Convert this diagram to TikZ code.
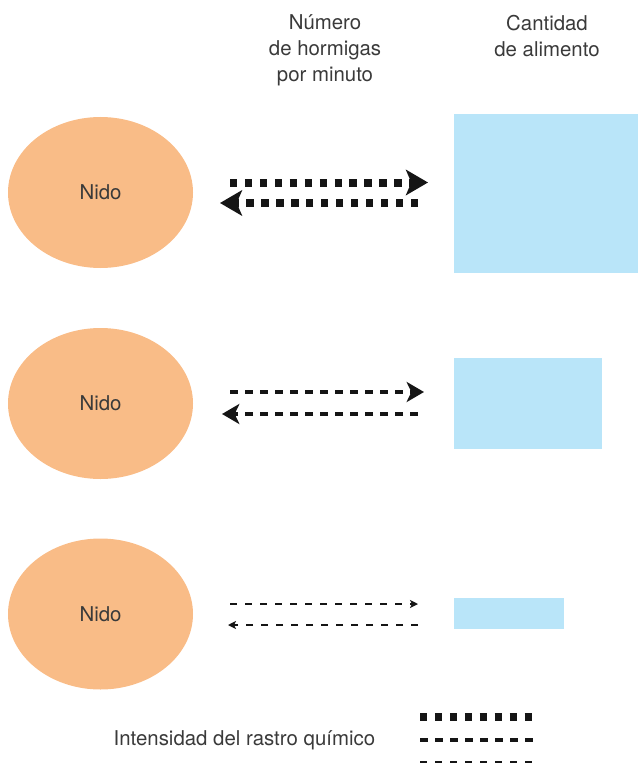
\documentclass[tikz,border=0pt]{standalone}
\usepackage{fontspec}
\setmainfont{TeX Gyre Heros}
\usetikzlibrary{shapes.geometric,arrows.meta}
\definecolor{nestfill}{HTML}{F9BC87}
\definecolor{foodfill}{HTML}{B9E5F9}
\definecolor{inkgray}{HTML}{3A3A3A}
\definecolor{trailink}{HTML}{151515}
\tikzset{
  nest/.style={ellipse, fill=nestfill, minimum width=138.75pt, minimum height=113.25pt,
    inner sep=0pt, text=inkgray, font=\fontsize{15.3pt}{19.5pt}\selectfont},
  food/.style={fill=foodfill, draw=none},
  label/.style={text=inkgray, align=center, font=\fontsize{15.3pt}{19.5pt}\selectfont},
  strong/.style={draw=trailink, line width=6pt, dash pattern=on 5.6pt off 5.6pt},
  medium/.style={draw=trailink, line width=3pt, dash pattern=on 5.8pt off 5.45pt},
  weak/.style={draw=trailink, line width=1.1pt, dash pattern=on 5pt off 6.25pt},
  bigtip/.style={-{Stealth[length=16.5pt, width=19pt, inset=4pt]}},
  midtip/.style={-{Stealth[length=13pt, width=15pt, inset=3.5pt]}},
  smalltip/.style={-{Stealth[length=6pt, width=6pt, inset=1.5pt]}}
}
\begin{document}
\begin{tikzpicture}[x=0.75pt, y=-0.75pt]
\useasboundingbox (0,0) rectangle (638,763);

% column headings
\node[label] (antsHead) at (325,50) {Número\\de hormigas\\por minuto};
\node[label] (foodHead) at (547,36) {Cantidad\\de alimento};

% nests
\node[nest] (nestA) at (100.5,192.5) {Nido};
\node[nest] (nestB) at (100.5,403.5) {Nido};
\node[nest] (nestC) at (100.5,614) {Nido};

% food sources of decreasing size
\fill[food] (454,114) rectangle (638,273);
\fill[food] (454,358) rectangle (602,449);
\fill[food] (454,598) rectangle (564,629);

% end points of the trails
\coordinate (a1) at (230,182.5);   \coordinate (a2) at (428,182.5);
\coordinate (a3) at (418,203);     \coordinate (a4) at (220,203);
\coordinate (b1) at (230,392);     \coordinate (b2) at (424,392);
\coordinate (b3) at (418,414);     \coordinate (b4) at (222,414);
\coordinate (c1) at (230,604);     \coordinate (c2) at (418,604);
\coordinate (c3) at (418,625);     \coordinate (c4) at (228,625);

% trails: outgoing and returning ants
\draw[strong, bigtip] (a1) -- (a2);
\draw[strong, bigtip] (a3) -- (a4);
\draw[medium, midtip] (b1) -- (b2);
\draw[medium, midtip] (b3) -- (b4);
\draw[weak, smalltip] (c1) -- (c2);
\draw[weak, smalltip] (c3) -- (c4);

% legend
\node[label, anchor=west] (legendText) at (109,740) {Intensidad del rastro químico};
\coordinate (l1) at (420,717);  \coordinate (l2) at (534,717);
\coordinate (l3) at (420,740);  \coordinate (l4) at (534,740);
\coordinate (l5) at (420,762.5);  \coordinate (l6) at (534,762.5);
\draw[strong] (l1) -- (l2);
\draw[medium] (l3) -- (l4);
\draw[weak, line width=1.6pt] (l5) -- (l6);
\end{tikzpicture}
\end{document}
